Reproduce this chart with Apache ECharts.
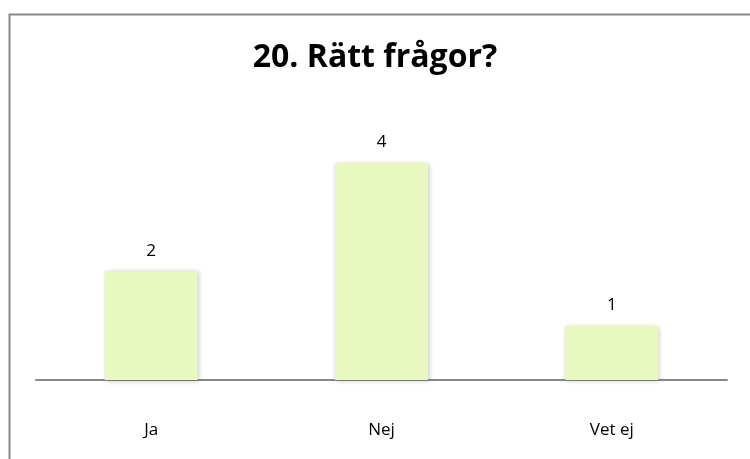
<!DOCTYPE html>
<html><head><meta charset="utf-8">
<script src="https://cdn.jsdelivr.net/npm/echarts@6/dist/echarts.min.js"></script>
<style>html,body{margin:0;padding:0;background:#fff}#c{width:750px;height:459px}</style>
</head><body><div id="c"></div>
<script>
const categories = ['Ja', 'Nej', 'Vet ej'];
const values = [2, 4, 1];
const titleText = '20. Rätt frågor?';

const chart = echarts.init(document.getElementById('c'));
chart.setOption({
  animation: false,
  backgroundColor: '#fff',
  title: {
    text: titleText, left: 'center', top: 37,
    textStyle: { fontFamily: 'Open Sans', fontWeight: 'bold', fontSize: 32, color: '#000' }
  },
  graphic: [{
    type: 'rect', left: 7, top: 12, z: -1,
    shape: { width: 760, height: 470 },
    style: { fill: 'none', stroke: '#888', lineWidth: 2 }
  }],
  grid: { left: 36, right: 23, top: 108.5, bottom: 79, containLabel: false },
  xAxis: {
    type: 'category', data: categories,
    axisLine: { lineStyle: { color: '#888', width: 2 } },
    axisTick: { show: false },
    axisLabel: { fontFamily: 'Open Sans', fontSize: 17, color: '#000', margin: 42 }
  },
  yAxis: { type: 'value', min: 0, max: 5, show: false, splitLine: { show: false } },
  series: [{
    type: 'bar', data: values, barWidth: 93,
    itemStyle: { color: '#E9F8BF', shadowColor: 'rgba(0,0,0,0.25)', shadowBlur: 5, shadowOffsetX: 1, shadowOffsetY: 1 },
    label: { show: true, position: 'top', distance: 12, fontFamily: 'Open Sans', fontSize: 17, color: '#000' }
  }]
});
</script></body></html>
